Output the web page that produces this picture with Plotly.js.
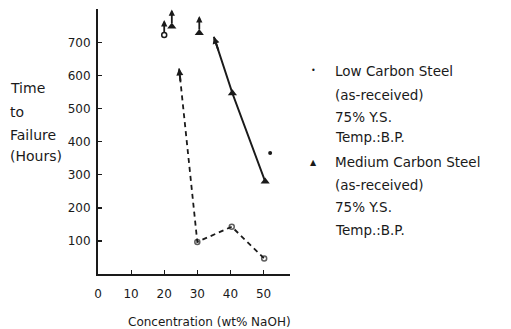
<!DOCTYPE html>
<html><head><meta charset="utf-8">
<script src="https://cdn.plot.ly/plotly-3.0.1.min.js"></script>
<style>html,body{margin:0;padding:0;background:#fff}#c{width:511px;height:329px}</style>
</head><body><div id="c"></div>
<script>
// Low carbon steel (circles)
const lowDashX = [24.5, 30, 40.4, 50.2];
const lowDashY = [622, 97, 143, 47];
const lowRunoutX = [20];
const lowRunoutY = [723];
const lowLoneX = [52];
const lowLoneY = [366];
// Medium carbon steel (triangles)
const medSolidX = [35, 40.6, 50.5];
const medSolidY = [718, 547, 280];
const medRunoutX = [22.3, 30.6];
const medRunoutY = [749, 729];
// ticks
const xTicks = [0, 10, 20, 30, 40, 50];
const yTicks = [100, 200, 300, 400, 500, 600, 700];
const yTickText = ['100', '200', '300', '400', '500', '600', '700'];

const ink = '#1a1a1a';
const font = {family: 'DejaVu Sans', size: 12, color: ink};

const traces = [
  {x: lowDashX, y: lowDashY, mode: 'lines+markers', line: {color: ink, width: 1.8, dash: '5px,4px'},
   marker: {symbol: 'circle-open', size: lowDashX.map((v, i) => i === 0 ? 0 : 5), color: ink, line: {width: 1.5, color: ink}}},
  {x: lowRunoutX, y: lowRunoutY, mode: 'markers', marker: {symbol: 'circle-open', size: 5, color: ink, line: {width: 1.5, color: ink}}},
  {x: lowLoneX, y: lowLoneY, mode: 'markers', marker: {symbol: 'circle', size: 4, color: ink}},
  {x: medSolidX, y: medSolidY, mode: 'lines', line: {color: ink, width: 2}},
  {x: medSolidX.slice(1), y: medSolidY.slice(1), mode: 'markers', marker: {symbol: 'triangle-up', size: 8, color: ink}},
  {x: medRunoutX, y: medRunoutY, mode: 'markers', marker: {symbol: 'triangle-up', size: 8, color: ink}}
];

const annotations = [];
const arrowStyle = {text: '', showarrow: true, arrowhead: 2, arrowsize: 0.7, arrowcolor: ink, xref: 'x', yref: 'y'};
// run-out arrows (point upward from marker)
lowRunoutX.forEach((x, i) => annotations.push(Object.assign({}, arrowStyle, {x: x, y: lowRunoutY[i],
  ax: 0, ay: 14, yshift: 15, arrowwidth: 1.8})));
medRunoutX.forEach((x, i) => annotations.push(Object.assign({}, arrowStyle, {x: x, y: medRunoutY[i],
  ax: 0, ay: 15, yshift: 17, arrowwidth: 1.8})));
// arrowheads at line ends
annotations.push(Object.assign({}, arrowStyle, {x: lowDashX[0], y: lowDashY[0], ax: 1.5, ay: 14, arrowwidth: 2}));
annotations.push(Object.assign({}, arrowStyle, {x: medSolidX[0], y: medSolidY[0], ax: 5, ay: 15, arrowwidth: 2}));

// axis titles
const titleFont = {family: 'DejaVu Sans', size: 14, color: ink};
const yTitleLines = [['Time', 88], ['to', 112], ['Failure', 135], ['(Hours)', 156]];
yTitleLines.forEach(([t, py]) => annotations.push({text: t, xref: 'paper', yref: 'paper', x: -0.47, y: 1 - (py - 9) / 265,
  xanchor: 'left', yanchor: 'middle', showarrow: false, font: titleFont}));
annotations.push({text: 'Concentration (wt% NaOH)', xref: 'paper', yref: 'paper', x: (209 - 98) / 192, y: -(322 - 274) / 265,
  xanchor: 'center', yanchor: 'middle', showarrow: false, font: font});

// legend text block
const legendLines = [
  ['\u2022', 313, 71], ['Low Carbon Steel', 333, 71], ['(as-received)', 333, 95], ['75% Y.S.', 333, 117], ['Temp.:B.P.', 333, 137],
  ['\u25B2', 313, 162], ['Medium Carbon Steel', 333, 162], ['(as-received)', 333, 185], ['75% Y.S.', 333, 207], ['Temp.:B.P.', 333, 230]
];
legendLines.forEach(([t, px, py]) => annotations.push({text: t, xref: 'paper', yref: 'paper',
  x: (px - 98) / 192, y: 1 - (py - 9) / 265, xanchor: (t.length === 1 ? 'center' : 'left'), yanchor: 'middle',
  showarrow: false, font: {family: 'DejaVu Sans', size: t.length === 1 ? 8 : 13.5, color: ink}}));

const layout = {
  width: 511, height: 329,
  margin: {l: 98, r: 221, t: 9, b: 55, pad: 0},
  paper_bgcolor: '#fff', plot_bgcolor: '#fff',
  showlegend: false,
  font: font,
  xaxis: {range: [0, 58], tickvals: xTicks, ticks: 'inside', ticklen: 4, tickwidth: 1.2, tickcolor: ink,
    showline: true, linewidth: 2, linecolor: ink, showgrid: false, zeroline: false, ticklabelstandoff: 8,
    tickfont: font, fixedrange: true},
  yaxis: {range: [0, 802], tickvals: yTicks, ticktext: yTickText, ticks: 'inside', ticklen: 4, tickwidth: 1.2, tickcolor: ink,
    showline: true, linewidth: 2, linecolor: ink, showgrid: false, zeroline: false, ticklabelstandoff: 3,
    tickfont: font, fixedrange: true},
  annotations: annotations
};
Plotly.newPlot('c', traces, layout, {displayModeBar: false, staticPlot: true});
</script></body></html>
